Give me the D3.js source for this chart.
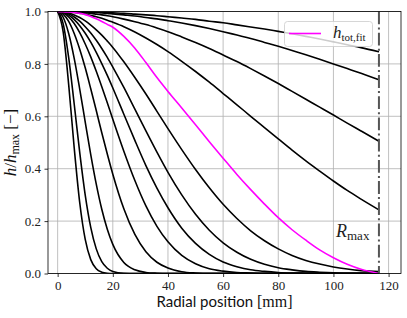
<!DOCTYPE html>
<html>
<head>
<meta charset="utf-8">
<script src="https://cdn.jsdelivr.net/npm/d3@7"></script>
<style>
  body { margin: 0; background: #fff; }
</style>
</head>
<body>
<div id="chart"></div>
<script>
// radial sample positions [mm]
const radius = [0, 2, 4, 6, 8, 10, 12, 14, 16, 18, 20, 24, 28, 32, 36, 40, 45, 50, 55, 60,
  65, 70, 75, 80, 85, 90, 95, 100, 105, 110, 116.5];

// normalised height profiles h/hmax (narrowest to widest)
const h07 = [1, .922, .721, .480, .271, .130, .053, .018, .005, .001, 0, 0, 0, 0, 0, 0, 0, 0, 0, 0,
  0, 0, 0, 0, 0, 0, 0, 0, 0, 0, 0];
const h09 = [1, .953, .824, .647, .462, .299, .176, .094, .045, .020, .008, .001, 0, 0, 0, 0, 0, 0, 0, 0,
  0, 0, 0, 0, 0, 0, 0, 0, 0, 0, 0];
const h13 = [1, .978, .916, .821, .704, .578, .454, .341, .245, .169, .111, .042, .014, .004, .001, 0, 0, 0, 0, 0,
  0, 0, 0, 0, 0, 0, 0, 0, 0, 0, 0];
const h20 = [1, .990, .962, .916, .856, .785, .705, .622, .537, .456, .379, .247, .149, .083, .043, .021, .007, .002, 0, 0,
  0, 0, 0, 0, 0, 0, 0, 0, 0, 0, 0];
const h27 = [1, .995, .979, .954, .919, .876, .827, .772, .713, .652, .589, .467, .355, .258, .180, .121, .069, .037, .018, .009,
  .004, .002, 0, 0, 0, 0, 0, 0, 0, 0, 0];
const h34 = [1, .997, .986, .969, .946, .917, .883, .844, .801, .756, .708, .608, .508, .412, .326, .251, .173, .115, .073, .044,
  .026, .014, .008, .004, .002, .001, 0, 0, 0, 0, 0];
const h41 = [1, .998, .991, .979, .963, .942, .918, .890, .859, .825, .788, .710, .627, .544, .463, .386, .300, .226, .165, .117,
  .081, .054, .035, .022, .014, .008, .005, .003, .001, .001, 0];
const h52 = [1, .999, .994, .987, .977, .964, .948, .930, .910, .887, .863, .808, .748, .685, .619, .553, .473, .397, .327, .264,
  .210, .163, .125, .094, .069, .050, .036, .025, .017, .011, .007];
const h98 = [1, 1, .998, .996, .993, .990, .985, .980, .974, .967, .959, .942, .922, .899, .874, .847, .810, .771, .730, .687,
  .644, .600, .557, .514, .471, .430, .391, .353, .317, .284, .243];
const h141 = [1, 1, .999, .998, .997, .995, .993, .990, .987, .984, .980, .971, .961, .950, .937, .923, .903, .882, .859, .834,
  .809, .782, .754, .725, .695, .665, .635, .605, .574, .544, .505];
const h212 = [1, 1, 1, .999, .999, .998, .997, .996, .994, .993, .991, .987, .983, .977, .972, .965, .956, .946, .935, .923,
  .910, .897, .882, .867, .851, .835, .818, .800, .782, .764, .739];
const h285 = [1, 1, 1, 1, .999, .999, .998, .998, .997, .996, .995, .993, .990, .987, .984, .980, .975, .970, .963, .957,
  .949, .941, .933, .924, .915, .905, .895, .884, .873, .862, .846];

// fitted total profile (magenta)
const hFit = [1, .999, .998, .996, .993, .988, .981, .972, .962, .951, .940, .905, .860, .805, .748, .695, .632, .568, .503, .440,
  .378, .320, .265, .213, .167, .127, .090, .060, .035, .016, 0];

const profiles = [h07, h09, h13, h20, h27, h34, h41, h52, h98, h141, h212, h285];

const rMax = 116.5;
const xTicks = [0, 20, 40, 60, 80, 100, 120];
const yTicks = [0, 0.2, 0.4, 0.6, 0.8, 1.0];

// dimensions
const w = 407;
const h = 318;
const pLeft = 48, pRight = 401, pTop = 11.5, pBottom = 273.5;

const xScale = d3.scaleLinear().domain([-3.5, 124.5]).range([pLeft, pRight]);
const yScale = d3.scaleLinear().domain([0, 1]).range([pBottom, pTop]);

const svg = d3.select('#chart').append('svg').attr('width', w).attr('height', h);

svg.append('defs').append('clipPath').attr('id', 'plot')
  .append('rect').attr('x', pLeft).attr('y', pTop)
  .attr('width', pRight - pLeft).attr('height', pBottom - pTop);

// grid
const grid = svg.append('g').attr('stroke', '#b0b0b0').attr('stroke-width', 0.8);
grid.selectAll('.vg').data(xTicks).enter().append('line')
  .attr('x1', (d) => xScale(d)).attr('x2', (d) => xScale(d))
  .attr('y1', pTop).attr('y2', pBottom);
grid.selectAll('.hg').data(yTicks).enter().append('line')
  .attr('x1', pLeft).attr('x2', pRight)
  .attr('y1', (d) => yScale(d)).attr('y2', (d) => yScale(d));

// curves
const line = d3.line()
  .x((d, i) => xScale(radius[i]))
  .y((d) => yScale(d))
  .curve(d3.curveMonotoneX);

const curves = svg.append('g').attr('clip-path', 'url(#plot)').attr('fill', 'none');
curves.selectAll('path.profile').data(profiles).enter().append('path')
  .attr('class', 'profile')
  .attr('d', line)
  .attr('stroke', '#000')
  .attr('stroke-width', 1.6)
  .attr('stroke-linejoin', 'round');

curves.append('path').datum(hFit)
  .attr('d', line)
  .attr('stroke', '#ff00ff')
  .attr('stroke-width', 1.6);

// R_max marker
svg.append('line')
  .attr('x1', xScale(rMax)).attr('x2', xScale(rMax))
  .attr('y1', pTop).attr('y2', pBottom)
  .attr('stroke', '#555')
  .attr('stroke-width', 2)
  .attr('stroke-dasharray', '12.8,3.2,2,3.2');

const rLabel = svg.append('text')
  .attr('x', 336).attr('y', 237)
  .attr('font-family', 'Liberation Serif').attr('font-size', 18).attr('fill', '#222');
rLabel.append('tspan').attr('font-style', 'italic').text('R');
rLabel.append('tspan').attr('font-size', 13).attr('dy', 3).text('max');

// axes
const xAxis = d3.axisBottom(xScale).tickValues(xTicks).tickSize(3.5).tickPadding(3.5)
  .tickFormat(d3.format('d'));
const yAxis = d3.axisLeft(yScale).tickValues(yTicks).tickSize(3.5).tickPadding(3.5)
  .tickFormat(d3.format('.1f'));

const gx = svg.append('g').attr('transform', 'translate(0,' + pBottom + ')').call(xAxis);
const gy = svg.append('g').attr('transform', 'translate(' + pLeft + ',0)').call(yAxis);
[gx, gy].forEach((g) => {
  g.select('.domain').remove();
  g.selectAll('line').attr('stroke-width', 0.8);
  g.selectAll('text').attr('font-family', 'Liberation Serif').attr('font-size', 13).attr('fill', '#222');
});

// frame
svg.append('rect')
  .attr('x', pLeft).attr('y', pTop)
  .attr('width', pRight - pLeft).attr('height', pBottom - pTop)
  .attr('fill', 'none').attr('stroke', '#000').attr('stroke-width', 0.8);

// axis labels
const xl = svg.append('text')
  .attr('x', (pLeft + pRight) / 2).attr('y', 307)
  .attr('text-anchor', 'middle').attr('fill', '#111');
xl.append('tspan').attr('font-family', 'Lato').attr('font-size', 15).text('Radial position ');
xl.append('tspan').attr('font-family', 'Liberation Serif').attr('font-size', 16).text('[mm]');

const yl = svg.append('text')
  .attr('transform', 'translate(16,' + (pTop + pBottom) / 2 + ') rotate(-90)')
  .attr('text-anchor', 'middle')
  .attr('font-family', 'Liberation Serif').attr('font-size', 17).attr('fill', '#111');
yl.append('tspan').attr('font-style', 'italic').text('h');
yl.append('tspan').text('/');
yl.append('tspan').attr('font-style', 'italic').text('h');
yl.append('tspan').attr('font-size', 12).attr('dy', 3).text('max');
yl.append('tspan').attr('dy', -3).text(' [\u2212]');

// legend
const legend = svg.append('g');
legend.append('rect')
  .attr('x', 284.5).attr('y', 21.5).attr('width', 88).attr('height', 25).attr('rx', 3)
  .attr('fill', '#fff').attr('fill-opacity', 0.8)
  .attr('stroke', '#ccc').attr('stroke-width', 0.8);
legend.append('line')
  .attr('x1', 289).attr('x2', 321).attr('y1', 33.5).attr('y2', 33.5)
  .attr('stroke', '#ff00ff').attr('stroke-width', 1.6);
const lt = legend.append('text')
  .attr('x', 333).attr('y', 38)
  .attr('font-family', 'Liberation Serif').attr('font-size', 17).attr('fill', '#222');
lt.append('tspan').attr('font-style', 'italic').text('h');
lt.append('tspan').attr('font-size', 11).attr('dy', 3).text('tot,fit');
</script>
</body>
</html>
